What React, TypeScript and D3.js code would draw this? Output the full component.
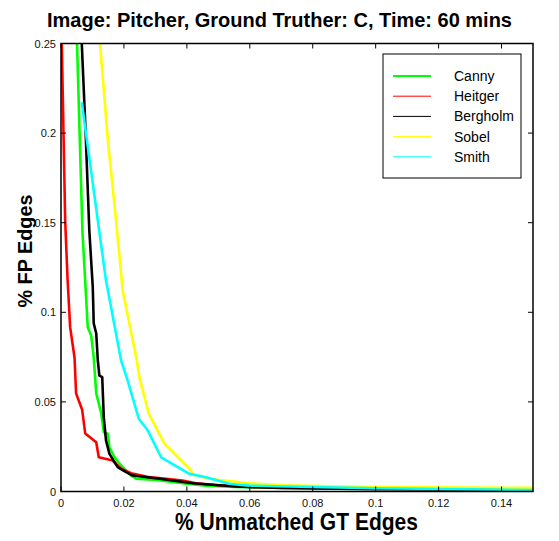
import React from "react";
import * as d3 from "d3";

// Edge detector comparison: % FP edges vs % unmatched ground-truth edges
const TITLE = "Image: Pitcher, Ground Truther: C, Time: 60 mins";
const X_LABEL = "% Unmatched GT Edges";
const Y_LABEL = "% FP Edges";

const xTicks = [0, 0.02, 0.04, 0.06, 0.08, 0.1, 0.12, 0.14];
const yTicks = [0, 0.05, 0.1, 0.15, 0.2, 0.25];

const detectors = ["Canny", "Heitger", "Bergholm", "Sobel", "Smith"];
const colors = ["#00ff00", "#ff0000", "#000000", "#ffff00", "#00ffff"];

type Pt = [number, number];

const canny: Pt[] = [
  [0.0051, 0.25], [0.0068, 0.1456], [0.0085, 0.0917], [0.0096, 0.087],
  [0.0104, 0.0748], [0.0112, 0.0547], [0.0128, 0.0435], [0.0136, 0.0331],
  [0.0149, 0.0322], [0.0154, 0.0247], [0.017, 0.0191], [0.0191, 0.0145],
  [0.0223, 0.0089], [0.0239, 0.0071], [0.0302, 0.0065], [0.0386, 0.0046],
  [0.0461, 0.0033], [0.055, 0.0025], [0.07, 0.002], [0.1, 0.0017], [0.15, 0.0015],
];

const heitger: Pt[] = [
  [0.00025, 0.25], [0.00133, 0.151], [0.0021, 0.118], [0.0029, 0.0917],
  [0.0043, 0.0748], [0.0048, 0.0547], [0.0067, 0.0458], [0.0077, 0.0324],
  [0.0112, 0.0275], [0.012, 0.0191], [0.0164, 0.0173], [0.0191, 0.0127],
  [0.0223, 0.0102], [0.0281, 0.008], [0.0386, 0.0061], [0.0429, 0.0046],
  [0.05, 0.0035], [0.06, 0.0025], [0.08, 0.002], [0.1, 0.0017], [0.15, 0.0012],
];

const bergholm: Pt[] = [
  [0.0066, 0.25], [0.0078, 0.2015], [0.009, 0.1456], [0.0101, 0.114],
  [0.0104, 0.0938], [0.0112, 0.0882], [0.0117, 0.0731], [0.0122, 0.0647],
  [0.0131, 0.0638], [0.0133, 0.0547], [0.0136, 0.0415], [0.0143, 0.0285],
  [0.0154, 0.021], [0.018, 0.0136], [0.0207, 0.0108], [0.0228, 0.0089],
  [0.0313, 0.0071], [0.0418, 0.0046], [0.0556, 0.0028], [0.07, 0.002],
  [0.1, 0.0013], [0.15, 0.001],
];

const sobel: Pt[] = [
  [0.0124, 0.25], [0.0149, 0.1959], [0.0175, 0.1512], [0.0196, 0.1122],
  [0.0241, 0.0731], [0.0249, 0.0638], [0.0279, 0.0434], [0.0329, 0.0266],
  [0.0413, 0.0117], [0.042, 0.0095], [0.0471, 0.0071], [0.0598, 0.0046],
  [0.07, 0.0035], [0.1, 0.0025], [0.15, 0.002],
];

const smith: Pt[] = [
  [0.0066, 0.2172], [0.0117, 0.1512], [0.0143, 0.1177], [0.0191, 0.0731],
  [0.0212, 0.0619], [0.0247, 0.0406], [0.0276, 0.034], [0.0318, 0.0191],
  [0.0408, 0.0099], [0.0461, 0.008], [0.0535, 0.0043], [0.0598, 0.0033],
  [0.08, 0.0025], [0.1, 0.0018], [0.15, 0.0008],
];

const series = [canny, heitger, bergholm, sobel, smith];

const W = 559;
const H = 541;
const left = 61;
const right = 533;
const top = 43.5;
const bottom = 491.5;

const fmt = (v: number) => (v === 0 ? "0" : String(+v.toFixed(2)));

export default function App() {
  const x = d3.scaleLinear().domain([0, 0.15]).range([left, right]);
  const y = d3.scaleLinear().domain([0, 0.25]).range([bottom, top]);
  const line = d3
    .line<Pt>()
    .x((d) => x(d[0]))
    .y((d) => y(d[1]));

  const font = "'Liberation Sans', Arial, Helvetica, sans-serif";
  const tickLen = 5;

  return (
    <svg
      width={W}
      height={H}
      style={{ position: "absolute", left: 0, top: 0, background: "#fff" }}
      fontFamily={font}
    >
      <defs>
        <clipPath id="plotClip">
          <rect x={left} y={top} width={right - left} height={bottom - top} />
        </clipPath>
      </defs>

      <text
        x={279.5}
        y={27}
        textAnchor="middle"
        fontSize={21}
        fontWeight="bold"
        textLength={465}
        lengthAdjust="spacingAndGlyphs"
      >
        {TITLE}
      </text>

      {/* curves */}
      <g clipPath="url(#plotClip)">
        {series.map((s, i) => (
          <path
            key={detectors[i]}
            d={line(s) || ""}
            fill="none"
            stroke={colors[i]}
            strokeWidth={2.6}
            strokeLinejoin="round"
          />
        ))}
      </g>

      {/* axes box with inward ticks */}
      <rect
        x={left}
        y={top}
        width={right - left}
        height={bottom - top}
        fill="none"
        stroke="#000"
        strokeWidth={1.5}
      />
      {xTicks.map((t) => (
        <g key={"x" + t}>
          <line x1={x(t)} x2={x(t)} y1={bottom} y2={bottom - tickLen} stroke="#000" />
          <line x1={x(t)} x2={x(t)} y1={top} y2={top + tickLen} stroke="#000" />
          <text x={x(t)} y={507} textAnchor="middle" fontSize={11} fill="#111">
            {fmt(t)}
          </text>
        </g>
      ))}
      {yTicks.map((t) => (
        <g key={"y" + t}>
          <line x1={left} x2={left + tickLen} y1={y(t)} y2={y(t)} stroke="#000" />
          <line x1={right} x2={right - tickLen} y1={y(t)} y2={y(t)} stroke="#000" />
          <text x={56} y={y(t) + 4} textAnchor="end" fontSize={11} fill="#111">
            {fmt(t)}
          </text>
        </g>
      ))}

      <text
        x={296.5}
        y={530}
        textAnchor="middle"
        fontSize={24}
        fontWeight="bold"
        textLength={243}
        lengthAdjust="spacingAndGlyphs"
      >
        {X_LABEL}
      </text>
      <text
        transform="translate(32,251) rotate(-90)"
        textAnchor="middle"
        fontSize={21}
        fontWeight="bold"
        textLength={113}
        lengthAdjust="spacingAndGlyphs"
      >
        {Y_LABEL}
      </text>

      {/* legend */}
      <g>
        <rect x={383} y={54} width={138} height={124} fill="#fff" stroke="#000" strokeWidth={1} />
        {detectors.map((name, i) => {
          const ly = 76 + i * 20.2;
          return (
            <g key={name}>
              <line
                x1={393}
                x2={431}
                y1={ly}
                y2={ly}
                stroke={colors[i]}
                strokeWidth={i === 0 ? 2 : 1}
              />
              <text x={454} y={ly + 5} fontSize={14} fill="#000">
                {name}
              </text>
            </g>
          );
        })}
      </g>
    </svg>
  );
}
